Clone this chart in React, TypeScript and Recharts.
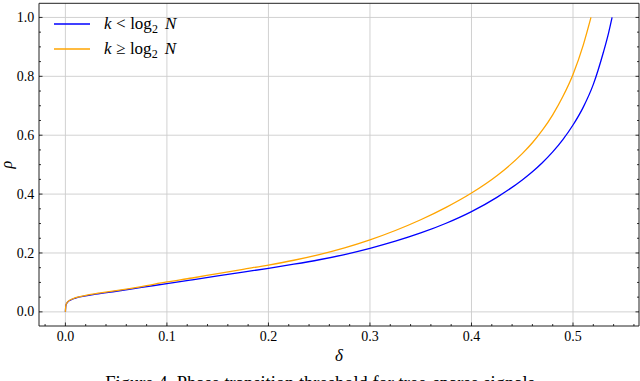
import React from 'react';
import { LineChart, Line, XAxis, YAxis, CartesianGrid, Legend } from 'recharts';

// threshold curve for k < log2 N (blue) and k >= log2 N (orange)
const blueDelta = [0, 0.0005, 0.002, 0.005, 0.01, 0.02, 0.03, 0.05, 0.075, 0.1, 0.125, 0.15, 0.175, 0.2, 0.225, 0.25, 0.275, 0.3, 0.325, 0.35, 0.375, 0.4, 0.425, 0.45, 0.46, 0.47, 0.48, 0.49, 0.5, 0.51, 0.52, 0.53, 0.535, 0.5385];
const blueRho = [0, 0.022, 0.032, 0.04, 0.047, 0.054, 0.06, 0.07, 0.083, 0.096, 0.109, 0.122, 0.135, 0.148, 0.1618, 0.177, 0.1948, 0.2158, 0.24, 0.268, 0.301, 0.3405, 0.389, 0.448, 0.4758, 0.5073, 0.5433, 0.5851, 0.6346, 0.6946, 0.7726, 0.8826, 0.947, 1.0];

const orangeDelta = [0, 0.0005, 0.002, 0.005, 0.01, 0.02, 0.03, 0.05, 0.075, 0.1, 0.125, 0.15, 0.175, 0.2, 0.225, 0.25, 0.275, 0.3, 0.325, 0.35, 0.375, 0.4, 0.425, 0.45, 0.46, 0.47, 0.48, 0.49, 0.5, 0.51, 0.5177];
const orangeRho = [0, 0.023, 0.033, 0.041, 0.048, 0.056, 0.062, 0.072, 0.086, 0.1015, 0.115, 0.13, 0.1445, 0.159, 0.1753, 0.1945, 0.2173, 0.2445, 0.2763, 0.3128, 0.3548, 0.4035, 0.4623, 0.5373, 0.5743, 0.6178, 0.6693, 0.7313, 0.8063, 0.905, 1.0];

const xMajorTicks = [0, 0.1, 0.2, 0.3, 0.4, 0.5];
const xTickLabels = ['0.0', '0.1', '0.2', '0.3', '0.4', '0.5'];
const xMinorTicks = [-0.02, 0.02, 0.04, 0.06, 0.08, 0.12, 0.14, 0.16, 0.18, 0.22, 0.24, 0.26, 0.28, 0.32, 0.34, 0.36, 0.38, 0.42, 0.44, 0.46, 0.48, 0.52, 0.54, 0.56];
const yMajorTicks = [0, 0.2, 0.4, 0.6, 0.8, 1.0];
const yTickLabels = ['0.0', '0.2', '0.4', '0.6', '0.8', '1.0'];
const yMinorTicks = [0.05, 0.1, 0.15, 0.25, 0.3, 0.35, 0.45, 0.5, 0.55, 0.65, 0.7, 0.75, 0.85, 0.9, 0.95];

const seriesColors = ['#0000ff', '#ffa500'];
const legendRelations = ['<', '≥'];
const caption = 'Figure 4. Phase transition threshold for tree-sparse signals';

const blueData = blueDelta.map((d, i) => ({ delta: d, rho: blueRho[i] }));
const orangeData = orangeDelta.map((d, i) => ({ delta: d, rho: orangeRho[i] }));
const xTicks = [...xMajorTicks, ...xMinorTicks].sort((a, b) => a - b);
const yTicks = [...yMajorTicks, ...yMinorTicks].sort((a, b) => a - b);

const FONT = '"Liberation Serif", "Times New Roman", serif';
const MAJOR_LEN = 3.5;
const MINOR_LEN = 2;

const majorIndex = (list: number[], v: number) => list.findIndex((m) => Math.abs(m - v) < 1e-6);

const XTick = ({ x, y, payload, side }: any) => {
  const idx = majorIndex(xMajorTicks, payload.value);
  const len = idx >= 0 ? MAJOR_LEN : MINOR_LEN;
  const dir = side === 'top' ? 1 : -1;
  return (
    <g>
      <line x1={x} x2={x} y1={y} y2={y + dir * len} stroke="#000" strokeWidth={0.8} />
      {side === 'bottom' && idx >= 0 && (
        <text x={x} y={y + 14.7} textAnchor="middle" fontFamily={FONT} fontSize={14} fill="#000">
          {xTickLabels[idx]}
        </text>
      )}
    </g>
  );
};

const YTick = ({ x, y, payload, side }: any) => {
  const idx = majorIndex(yMajorTicks, payload.value);
  const len = idx >= 0 ? MAJOR_LEN : MINOR_LEN;
  const dir = side === 'left' ? 1 : -1;
  return (
    <g>
      <line x1={x} x2={x + dir * len} y1={y} y2={y} stroke="#000" strokeWidth={0.8} />
      {side === 'left' && idx >= 0 && (
        <text x={x - 4.7} y={y + 4.6} textAnchor="end" fontFamily={FONT} fontSize={14} fill="#000">
          {yTickLabels[idx]}
        </text>
      )}
    </g>
  );
};

const XLabel = ({ viewBox }: any) => (
  <text x={viewBox.x + viewBox.width / 2} y={viewBox.y + 34.7} textAnchor="middle" fontFamily={FONT} fontStyle="italic" fontSize={17} fill="#000">
    δ
  </text>
);

const YLabel = ({ viewBox }: any) => {
  const bx = viewBox.x + viewBox.width - 27;
  const cy = viewBox.y + viewBox.height / 2;
  return (
    <text x={bx} y={cy} transform={`rotate(-90, ${bx}, ${cy})`} textAnchor="middle" fontFamily={FONT} fontStyle="italic" fontSize={16} fill="#000">
      ρ
    </text>
  );
};

const renderLegend = () => (
  <div style={{ fontFamily: FONT, fontSize: 17, color: '#000' }}>
    {legendRelations.map((rel, i) => (
      <div key={rel} style={{ display: 'flex', alignItems: 'center', height: 25 }}>
        <svg width={36} height={4} style={{ marginRight: 14, display: 'block' }}>
          <line x1={0} x2={36} y1={2} y2={2} stroke={seriesColors[i]} strokeWidth={1.4} />
        </svg>
        <span style={{ whiteSpace: 'nowrap', lineHeight: '25px' }}>
          <i>k</i>
          <span style={{ margin: '0 4.5px' }}>{rel}</span>
          log
          <span style={{ fontSize: 12, position: 'relative', top: 4 }}>2</span>
          <i style={{ marginLeft: 7 }}>N</i>
        </span>
      </div>
    ))}
  </div>
);

export default function App() {
  return (
    <div style={{ position: 'absolute', left: 0, top: 0, width: 640, height: 381, background: '#fff', overflow: 'hidden' }}>
      <LineChart width={640} height={381} margin={{ top: 2.3, right: 0, bottom: 54, left: 38 }}>
        <CartesianGrid stroke="#cccccc" strokeWidth={0.9} verticalValues={xMajorTicks} horizontalValues={yMajorTicks} />
        <XAxis
          xAxisId={0}
          dataKey="delta"
          type="number"
          domain={[-0.026, 0.565]}
          allowDataOverflow
          ticks={xTicks}
          interval={0}
          height={1}
          tickSize={0}
          tickMargin={0}
          axisLine={{ stroke: '#222', strokeWidth: 1 }}
          tick={(p: any) => <XTick {...p} side="bottom" />}
          label={<XLabel />}
        />
        <XAxis
          xAxisId="top"
          orientation="top"
          type="number"
          domain={[-0.026, 0.565]}
          allowDataOverflow
          ticks={xTicks}
          interval={0}
          height={1}
          tickSize={0}
          tickMargin={0}
          axisLine={{ stroke: '#222', strokeWidth: 1 }}
          tick={(p: any) => <XTick {...p} side="top" />}
        />
        <YAxis
          yAxisId={0}
          type="number"
          domain={[-0.048, 1.048]}
          allowDataOverflow
          ticks={yTicks}
          interval={0}
          width={1}
          tickSize={0}
          tickMargin={0}
          axisLine={{ stroke: '#222', strokeWidth: 1 }}
          tick={(p: any) => <YTick {...p} side="left" />}
          label={<YLabel />}
        />
        <YAxis
          yAxisId="right"
          orientation="right"
          type="number"
          domain={[-0.048, 1.048]}
          allowDataOverflow
          ticks={yTicks}
          interval={0}
          width={1}
          tickSize={0}
          tickMargin={0}
          axisLine={{ stroke: '#222', strokeWidth: 1 }}
          tick={(p: any) => <YTick {...p} side="right" />}
        />
        <Line data={blueData} dataKey="rho" type="monotone" stroke={seriesColors[0]} strokeWidth={1.3} dot={false} isAnimationActive={false} />
        <Line data={orangeData} dataKey="rho" type="monotone" stroke={seriesColors[1]} strokeWidth={1.3} dot={false} isAnimationActive={false} />
        <Legend
          layout="vertical"
          align="center"
          verticalAlign="middle"
          content={renderLegend}
          wrapperStyle={{ left: 54, top: 11.8, width: 'auto' }}
        />
      </LineChart>
      <div style={{ position: 'absolute', left: 0, top: 373.8, width: 640, textAlign: 'center', fontFamily: FONT, fontSize: 18.5, lineHeight: '18.5px', color: '#000', whiteSpace: 'nowrap' }}>
        {caption}
      </div>
    </div>
  );
}
